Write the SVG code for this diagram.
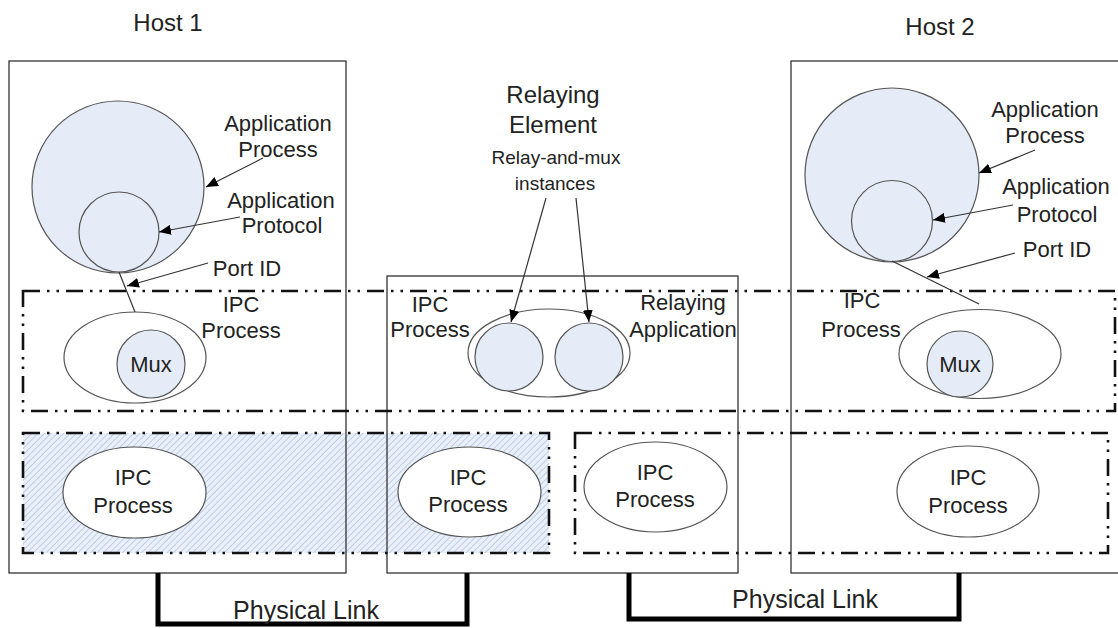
<svg xmlns="http://www.w3.org/2000/svg" width="1118" height="628" viewBox="0 0 1118 628">
<style>
  text { font-family: "Liberation Sans", Arial, sans-serif; fill: #222; text-anchor: middle; }
  .t22 { font-size: 22px; }
  .t19 { font-size: 19px; }
  .t24 { font-size: 24px; }
  .t25 { font-size: 25px; }
  .box { fill: none; stroke: #333; stroke-width: 1.3; }
  .dd { fill: none; stroke: #111; stroke-width: 2.6; stroke-dasharray: 17 7 2.5 7 2.5 7; }
  .blue { fill: #e6ecf7; stroke: #555; stroke-width: 1.2; }
  .ell { fill: #fff; stroke: #555; stroke-width: 1.2; }
  .arr { fill: none; stroke: #333; stroke-width: 1.2; marker-end: url(#ah); }
  .ln { fill: none; stroke: #333; stroke-width: 1.2; }
  .phys { fill: none; stroke: #000; stroke-width: 5; }
</style>
<defs>
  <marker id="ah" viewBox="0 0 12 10" refX="12" refY="5" markerWidth="12" markerHeight="10" markerUnits="userSpaceOnUse" orient="auto">
    <path d="M0,0 L12,5 L0,10 z" fill="#000"/>
  </marker>
  <pattern id="hatch" width="4.5" height="4.5" patternUnits="userSpaceOnUse" patternTransform="rotate(45)">
    <rect width="4.5" height="4.5" fill="#eaf0fa"/>
    <line x1="0" y1="0" x2="0" y2="4.5" stroke="#b3c3e2" stroke-width="1.5"/>
  </pattern>
</defs>
<rect width="1118" height="628" fill="#fff"/>

<g id="hatched-layer-fill">
  <rect x="23" y="433" width="526" height="120" fill="url(#hatch)"/>
</g>

<g id="host1">
  <rect class="box" x="9" y="61" width="337" height="512"/>
  <text class="t24" x="168" y="31">Host 1</text>
</g>
<g id="relaying-element">
  <rect class="box" x="387" y="276" width="351" height="297"/>
  <text class="t24" x="553" y="103">Relaying</text>
  <text class="t24" x="553" y="133">Element</text>
</g>
<g id="host2">
  <rect class="box" x="791" y="61" width="340" height="512"/>
  <text class="t24" x="940" y="35">Host 2</text>
</g>

<g id="upper-ipc-layer">
  <rect class="dd" x="23" y="291" width="1092" height="120"/>
</g>
<g id="lower-ipc-layer-left">
  <rect class="dd" x="23" y="433" width="526" height="120"/>
</g>
<g id="lower-ipc-layer-right">
  <rect class="dd" x="575" y="433" width="533" height="120"/>
</g>

<g id="host1-app-process">
  <circle class="blue" cx="118" cy="187" r="86"/>
  <text class="t22" x="278" y="131">Application</text>
  <text class="t22" x="278" y="157">Process</text>
</g>
<g id="host1-app-protocol">
  <circle class="blue" cx="119" cy="232" r="40"/>
  <text class="t22" x="281" y="208">Application</text>
  <text class="t22" x="282" y="233">Protocol</text>
</g>
<g id="host1-port-id">
  <text class="t22" x="247" y="276">Port ID</text>
</g>
<g id="host1-ipc-upper">
  <ellipse class="ell" cx="135" cy="357.5" rx="71" ry="45.5"/>
  <text class="t22" x="241" y="312">IPC</text>
  <text class="t22" x="241" y="338">Process</text>
</g>
<g id="host1-mux">
  <circle class="blue" cx="151" cy="364" r="34"/>
  <text class="t22" x="151" y="372">Mux</text>
</g>
<g id="host1-ipc-lower">
  <ellipse class="ell" cx="134.5" cy="492.5" rx="71.5" ry="45.5"/>
  <text class="t22" x="133" y="485">IPC</text>
  <text class="t22" x="133" y="513">Process</text>
</g>

<g id="relay-ipc-upper">
  <text class="t22" x="430" y="312">IPC</text>
  <text class="t22" x="430" y="337">Process</text>
  <ellipse class="ell" cx="549" cy="353" rx="81" ry="44"/>
</g>
<g id="relay-mux-1">
  <ellipse class="blue" cx="509" cy="357" rx="34" ry="34"/>
</g>
<g id="relay-mux-2">
  <ellipse class="blue" cx="589" cy="357" rx="34" ry="34"/>
</g>
<g id="relay-and-mux-label">
  <text class="t19" x="556" y="164">Relay-and-mux</text>
  <text class="t19" x="555" y="190">instances</text>
</g>
<g id="relaying-application">
  <text class="t22" x="683" y="310">Relaying</text>
  <text class="t22" x="683" y="337">Application</text>
</g>
<g id="relay-ipc-lower-left">
  <ellipse class="ell" cx="469.5" cy="492" rx="71.5" ry="45"/>
  <text class="t22" x="468" y="485">IPC</text>
  <text class="t22" x="468" y="512">Process</text>
</g>
<g id="relay-ipc-lower-right">
  <ellipse class="ell" cx="655.5" cy="487" rx="71.5" ry="45"/>
  <text class="t22" x="655" y="480">IPC</text>
  <text class="t22" x="655" y="507">Process</text>
</g>

<g id="host2-app-process">
  <circle class="blue" cx="892" cy="175" r="87"/>
  <text class="t22" x="1045" y="117">Application</text>
  <text class="t22" x="1045" y="143">Process</text>
</g>
<g id="host2-app-protocol">
  <circle class="blue" cx="892" cy="221" r="40.5"/>
  <text class="t22" x="1056" y="194">Application</text>
  <text class="t22" x="1057" y="222">Protocol</text>
</g>
<g id="host2-port-id">
  <text class="t22" x="1057" y="257">Port ID</text>
</g>
<g id="host2-ipc-upper">
  <ellipse class="ell" cx="980" cy="354" rx="81" ry="44.5"/>
  <text class="t22" x="862" y="308">IPC</text>
  <text class="t22" x="861" y="337">Process</text>
</g>
<g id="host2-mux">
  <circle class="blue" cx="960" cy="364" r="33"/>
  <text class="t22" x="960" y="372">Mux</text>
</g>
<g id="host2-ipc-lower">
  <ellipse class="ell" cx="968" cy="491.5" rx="71" ry="45.5"/>
  <text class="t22" x="968" y="485">IPC</text>
  <text class="t22" x="968" y="513">Process</text>
</g>

<g id="connectors">
  <line class="arr" x1="263" y1="158" x2="206" y2="187"/>
  <line class="arr" x1="240" y1="217" x2="159" y2="232"/>
  <line class="arr" x1="208" y1="263" x2="127" y2="286"/>
  <line class="ln" x1="119" y1="272" x2="135" y2="312"/>
  <line class="arr" x1="546" y1="198" x2="511" y2="322"/>
  <line class="arr" x1="576" y1="198" x2="589" y2="322"/>
  <line class="arr" x1="1035" y1="150" x2="979" y2="173"/>
  <line class="arr" x1="1013" y1="205" x2="933" y2="220"/>
  <line class="arr" x1="1015" y1="253" x2="927" y2="277"/>
  <line class="ln" x1="892" y1="261" x2="979" y2="304"/>
  <path class="phys" d="M158,573 V624 H467 V573"/>
  <path class="phys" d="M629,573 V619 H959 V573"/>
  <text class="t25" x="306" y="619">Physical Link</text>
  <text class="t25" x="805" y="608">Physical Link</text>
</g>
</svg>
